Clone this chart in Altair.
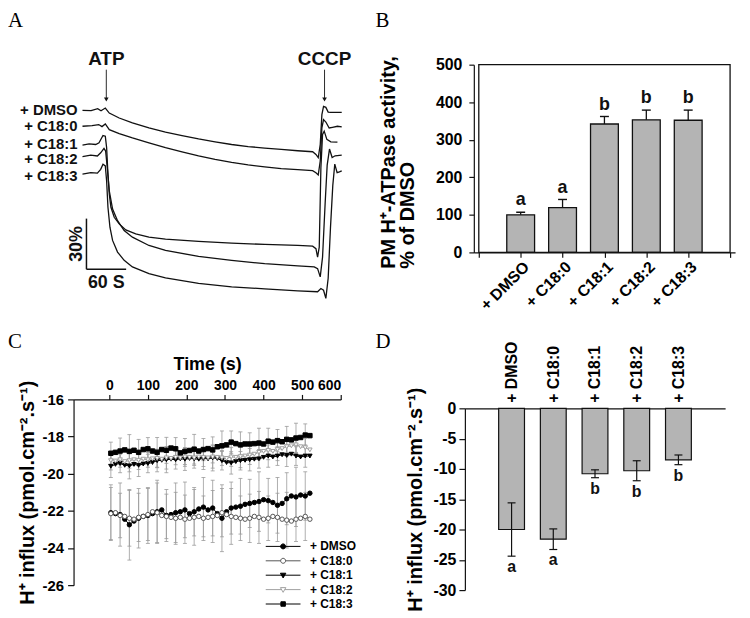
import json
import pandas as pd
import altair as alt

FONT = "Liberation Sans"
SERIF = "Liberation Serif"
INK = "#111111"
BAR_FILL = "#b4b4b4"
ERR_GRAY = "#9a9a9a"
W, H = 734, 602

# ---------------- panel letters ----------------
PANEL_LABELS = ["A", "B", "C", "D"]
PANEL_COL = [0, 1, 0, 1]
PANEL_ROW = [0, 0, 1, 1]

# ---------------- A: fluorescence traces ----------------
A_NAMES = ["+ DMSO", "+ C18:0", "+ C18:1", "+ C18:2", "+ C18:3"]
A_T_DMSO = [0, 13, 23, 28, 34.5, 40.5, 55.5, 75.5, 100.5, 125.5, 150.5, 175.5, 200.5, 225.5, 250.5, 275.5,
            300.5, 325.5, 348, 353, 356.5, 359.5, 362, 364.5, 368, 371.5, 375.5, 392]
A_V_DMSO = [-0.6, -0.8, 0.4, -0.8, 0.8, -2.2, -5.1, -8.0, -11.0, -13.5, -15.5, -17.5, -19.2, -20.8, -22.0, -22.9,
            -23.7, -24.5, -25.1, -26.7, -28.6, -20.8, -3.1, 1.8, 1.2, -1.6, -1.8, -1.8]
A_T_C180 = [0, 14.5, 24.5, 29.5, 34.5, 40.5, 55.5, 75.5, 100.5, 125.5, 150.5, 175.5, 200.5, 225.5, 250.5, 275.5,
            300.5, 325.5, 348, 353, 356.5, 359.5, 362, 364.5, 368, 373, 378, 385.5, 392]
A_V_C180 = [-10.0, -9.6, -9.0, -10.2, -8.6, -12.0, -14.3, -16.9, -19.8, -22.7, -25.1, -27.5, -29.6, -31.4, -32.9,
            -34.1, -35.1, -35.7, -36.3, -37.5, -38.8, -30.6, -11.0, -6.1, -7.5, -11.0, -10.6, -10.0, -10.4]
A_T_C181 = [0, 10, 20, 25, 31, 34.5, 36.5, 38.5, 40.5, 43, 48, 55.5, 65.5, 80.5, 100.5, 125.5, 175.5, 225.5,
            275.5, 325.5, 348, 353, 355.5, 358, 360.5, 363, 365.5, 369.5, 375.5, 385.5]
A_V_C181 = [-21.2, -20.4, -20.8, -19.8, -15.5, -15.9, -22.7, -38.4, -50.2, -58.0, -63.9, -67.8, -71.4, -73.7,
            -75.7, -76.9, -78.2, -79.2, -80.0, -80.6, -81.0, -82.5, -87.5, -81.6, -34.5, -14.9, -12.9, -17.8,
            -19.2, -19.4]
A_T_C182 = [0, 12.5, 22.5, 27.5, 32.5, 35, 37.5, 40.5, 45.5, 53, 63, 75.5, 100.5, 125.5, 175.5, 225.5, 275.5,
            325.5, 350.5, 355.5, 359.5, 363, 367, 370, 373.5, 377.5, 382, 392]
A_V_C182 = [-28.0, -27.1, -27.6, -25.7, -23.1, -24.7, -34.5, -48.2, -59.0, -65.9, -71.8, -75.7, -80.6, -83.5,
            -87.1, -89.4, -91.4, -92.7, -93.3, -94.3, -99.2, -87.5, -55.0, -33.0, -23.5, -28.5, -27.5, -27.1]
A_T_C183 = [0, 12.5, 22.5, 27.5, 31, 34.5, 36.5, 38.5, 41.5, 45.5, 53, 63, 75.5, 100.5, 125.5, 175.5, 225.5,
            275.5, 325.5, 355.5, 360.5, 364.5, 368, 371.5, 375, 378.5, 381.5, 385, 388.5, 392]
A_V_C183 = [-38.4, -37.5, -37.8, -35.5, -32.5, -33.5, -42.4, -58.0, -69.8, -77.6, -84.5, -89.4, -93.3, -97.3,
            -99.8, -103.1, -105.1, -106.3, -107.5, -108.0, -106.1, -107.1, -111.9, -100.0, -70.0, -45.0, -32.4,
            -37.5, -37.0, -36.4]
A_T = [A_T_DMSO, A_T_C180, A_T_C181, A_T_C182, A_T_C183]
A_V = [A_V_DMSO, A_V_C180, A_V_C181, A_V_C182, A_V_C183]
A_EVENTS = ["ATP", "CCCP"]
A_EVENT_T = [36, 366]
SCALE_SEC = 60
SCALE_PCT = 30

# ---------------- B: ATPase activity ----------------
TREATMENTS = ["+ DMSO", "+ C18:0", "+ C18:1", "+ C18:2", "+ C18:3"]
B_MEAN = [100, 119, 342, 353, 352]
B_ERR = [7, 22, 20, 26, 27]
B_LETTER = ["a", "a", "b", "b", "b"]

# ---------------- C: H+ influx time course ----------------
C_NAMES = ["+ DMSO", "+ C18:0", "+ C18:1", "+ C18:2", "+ C18:3"]
C_T = [4, 16, 28, 40, 52, 64, 76, 88, 100, 112, 124, 136, 148, 160, 172, 184, 196, 208, 220, 232, 244, 256,
       268, 280, 292, 304, 316, 328, 340, 352, 364, 376, 388, 400, 412, 424, 436, 448, 460, 472, 484, 496,
       508, 520]
C_DMSO = [-22.10, -22.15, -22.20, -22.45, -22.75, -22.55, -22.40, -22.30, -22.25, -22.15,
          -22.05, -21.95, -22.25, -22.20, -22.10, -22.05, -21.95, -22.15, -22.05, -21.90,
          -21.80, -21.95, -21.85, -22.15, -22.40, -22.05, -21.85, -21.80, -21.75, -21.65,
          -21.60, -21.55, -21.50, -21.40, -21.45, -21.55, -21.70, -21.60, -21.35, -21.20,
          -21.25, -21.15, -21.20, -21.05]
C_C180 = [-22.15, -22.10, -22.25, -22.30, -22.40, -22.45, -22.35, -22.30, -22.20, -22.05,
          -22.10, -22.25, -22.30, -22.35, -22.40, -22.35, -22.45, -22.40, -22.35, -22.30,
          -22.40, -22.35, -22.30, -22.25, -22.10, -22.20, -22.30, -22.35, -22.40, -22.45,
          -22.40, -22.30, -22.35, -22.45, -22.40, -22.30, -22.35, -22.45, -22.50, -22.55,
          -22.45, -22.40, -22.30, -22.45]
C_C181 = [-19.60, -19.50, -19.45, -19.55, -19.58, -19.50, -19.55, -19.48, -19.45, -19.40,
          -19.30, -19.28, -19.25, -19.22, -19.25, -19.20, -19.22, -19.18, -19.20, -19.22,
          -19.18, -19.20, -19.15, -19.18, -19.30, -19.40, -19.42, -19.35, -19.30, -19.28,
          -19.25, -19.22, -19.20, -19.12, -19.05, -19.10, -19.05, -18.98, -19.02, -18.95,
          -19.05, -19.10, -19.05, -19.05]
C_C182 = [-19.30, -19.32, -19.25, -19.35, -19.30, -19.25, -19.28, -19.22, -19.25, -19.20,
          -19.18, -19.22, -19.15, -19.18, -19.12, -19.15, -19.10, -19.12, -19.15, -19.10,
          -19.12, -19.15, -19.10, -19.12, -19.15, -19.18, -19.10, -19.12, -19.08, -19.05,
          -19.00, -18.95, -18.85, -18.80, -18.75, -18.80, -18.70, -18.65, -18.55, -18.50,
          -18.45, -18.55, -18.60, -18.72]
C_C183 = [-18.90, -18.85, -18.78, -18.72, -18.80, -18.74, -18.85, -18.70, -18.66, -18.78,
          -18.85, -18.70, -18.74, -18.62, -18.66, -18.88, -18.80, -18.75, -18.68, -18.78,
          -18.70, -18.65, -18.72, -18.55, -18.50, -18.45, -18.30, -18.38, -18.45, -18.40,
          -18.40, -18.38, -18.35, -18.40, -18.25, -18.30, -18.22, -18.28, -18.15, -18.18,
          -18.08, -18.05, -17.92, -17.95]
# SD shown on every second time point
C_SD_DMSO = [1.5, 1.7, 1.9, 1.6, 1.5, 1.7, 1.4, 1.6, 1.5, 1.3, 1.6, 1.5, 1.8, 1.4, 1.5, 1.3, 1.6, 1.2, 1.5, 1.4, 1.6, 1.3]
C_SD_C180 = [1.4, 1.2, 1.5, 1.3, 1.4, 1.6, 1.2, 1.4, 1.3, 1.5, 1.2, 1.4, 1.3, 1.5, 1.2, 1.3, 1.4, 1.2, 1.3, 1.5, 1.2, 1.3]
C_SD_C181 = [0.6, 0.5, 0.7, 0.6, 0.5, 0.6, 0.7, 0.5, 0.6, 0.5, 0.6, 0.7, 0.5, 0.6, 0.5, 0.6, 0.5, 0.6, 0.5, 0.6, 0.5, 0.6]
C_SD_C182 = [0.5, 0.4, 0.6, 0.5, 0.4, 0.5, 0.6, 0.4, 0.5, 0.4, 0.5, 0.6, 0.4, 0.5, 0.6, 0.5, 0.4, 0.5, 0.6, 0.5, 0.4, 0.5]
C_SD_C183 = [0.6, 0.7, 0.9, 0.7, 0.6, 0.8, 0.7, 0.6, 0.7, 0.8, 0.6, 0.7, 0.8, 0.6, 0.7, 0.6, 0.8, 0.7, 0.6, 0.7, 0.8, 0.6]
C_VALUES = [C_DMSO, C_C180, C_C181, C_C182, C_C183]
C_SDS = [C_SD_DMSO, C_SD_C180, C_SD_C181, C_SD_C182, C_SD_C183]
C_SHAPES = ["circle", "circle", "triangle-down", "triangle-down", "square"]
C_FILLS = ["#000000", "#ffffff", "#000000", "#ffffff", "#000000"]
C_STROKES = ["#000000", "#555555", "#000000", "#a0a0a0", "#000000"]
LEG_PATHS = [
    "M-3.5,0H3.5M0.5,0A0.5,0.5,0,1,1,-0.5,0A0.5,0.5,0,1,1,0.5,0Z",
    "M-3.5,0H-0.5M0.5,0H3.5M0.5,0A0.5,0.5,0,1,1,-0.5,0A0.5,0.5,0,1,1,0.5,0Z",
    "M-3.5,0H3.5M-0.55,-0.4L0.55,-0.4L0,0.55Z",
    "M-3.5,0H-0.35M0.35,0H3.5M-0.55,-0.4L0.55,-0.4L0,0.55Z",
    "M-3.5,0H3.5M-0.45,-0.45H0.45V0.45H-0.45Z",
]

# ---------------- D: mean H+ influx ----------------
D_MEAN = [-20.0, -21.6, -10.8, -10.3, -8.5]
D_ERR = [4.4, 1.7, 0.65, 1.65, 0.8]
D_LETTER = ["a", "a", "b", "b", "b"]

LABEL_EXPR = "%s[datum.value] || ''" % json.dumps([""] + TREATMENTS + [""])
FLUX_TITLE = "H⁺ influx (pmol.cm⁻².s⁻¹)"
A_LABEL_NUDGE = [0, 0, -1.5, 2, 1.5]   # small pixel nudges so the trace names do not collide


def sc(domain, rng):
    return alt.Scale(domain=domain, range=rng, nice=False, zero=False)


one = pd.DataFrame({"k": [0]})

# ---------- letters ----------
df_letters = pd.DataFrame({"lab": PANEL_LABELS, "col": PANEL_COL, "row": PANEL_ROW})
letters = alt.Chart(df_letters).mark_text(font=SERIF, fontSize=21, align="left", baseline="top",
                                          color="black").encode(
    x=alt.X("col:Q", scale=sc([0, 1], [0, 370]), axis=None),
    y=alt.Y("row:Q", scale=sc([0, 1], [0, 323]), axis=None),
    text="lab:N",
)

# ---------- A ----------
rowsA = []
for name, ts, vs in zip(A_NAMES, A_T, A_V):
    for t, v in zip(ts, vs):
        rowsA.append({"trace": name, "t": t, "v": v})
dfA = pd.DataFrame(rowsA)
dfEv = pd.DataFrame({"event": A_EVENTS, "t": A_EVENT_T})
xA_s = sc([0, 392], [75, 336])
yA_s = sc([-120, 0], [304, 100])
xA = alt.X("t:Q", scale=xA_s, axis=None)
yA = alt.Y("v:Q", scale=yA_s, axis=None)
SB_T0, SB_V0 = 6, -94.7

a_lines = alt.Chart(dfA).mark_line(color=INK, strokeWidth=1.3).encode(x=xA, y=yA, detail="trace:N")
a_label_layers = []
for name, ts, vs, nud in zip(A_NAMES, A_T, A_V, A_LABEL_NUDGE):
    a_label_layers.append(
        alt.Chart(pd.DataFrame({"trace": [name], "t": [ts[0]], "v": [vs[0]]})).mark_text(
            align="right", baseline="middle", dx=-5, dy=nud, fontSize=15, fontWeight="bold", color=INK
        ).encode(x=xA, y=yA, text="trace:N"))
a_ev_text = alt.Chart(dfEv).mark_text(baseline="middle", fontSize=19, fontWeight="bold", color=INK).encode(
    x=xA, y=alt.Y(datum=30, scale=yA_s, axis=None), text="event:N")
a_ev_rule = alt.Chart(dfEv).mark_rule(color=INK, strokeWidth=0.9).encode(
    x=xA, y=alt.Y(datum=23.5, scale=yA_s, axis=None), y2=alt.datum(6.5))
a_ev_head = alt.Chart(dfEv).mark_point(shape="triangle-down", filled=True, size=22, color=INK,
                                       opacity=1).encode(x=xA, y=alt.Y(datum=5.8, scale=yA_s, axis=None))
sb_h = alt.Chart(one).mark_rule(color=INK, strokeWidth=1.5).encode(
    x=alt.X(datum=SB_T0, scale=xA_s, axis=None), x2=alt.datum(SB_T0 + SCALE_SEC),
    y=alt.Y(datum=SB_V0, scale=yA_s, axis=None))
sb_v = alt.Chart(one).mark_rule(color=INK, strokeWidth=1.5).encode(
    x=alt.X(datum=SB_T0, scale=xA_s, axis=None),
    y=alt.Y(datum=SB_V0, scale=yA_s, axis=None), y2=alt.datum(SB_V0 + SCALE_PCT))
sb_t1 = alt.Chart(one).mark_text(fontSize=18, fontWeight="bold", baseline="middle", color=INK,
                                 text=f"{SCALE_SEC} S").encode(
    x=alt.X(datum=SB_T0 + SCALE_SEC / 2, scale=xA_s, axis=None),
    y=alt.Y(datum=SB_V0 - 8.2, scale=yA_s, axis=None))
sb_t2 = alt.Chart(one).mark_text(fontSize=18, fontWeight="bold", baseline="middle", angle=270, color=INK,
                                 text=f"{SCALE_PCT}%").encode(
    x=alt.X(datum=SB_T0 - 15, scale=xA_s, axis=None),
    y=alt.Y(datum=SB_V0 + SCALE_PCT / 2, scale=yA_s, axis=None))
panelA = alt.layer(a_lines, *a_label_layers, a_ev_rule, a_ev_head, a_ev_text, sb_h, sb_v, sb_t1, sb_t2)

# ---------- B ----------
dfB = pd.DataFrame({"treat": TREATMENTS, "pos": list(range(1, 6)), "m": B_MEAN, "e": B_ERR,
                    "letter": B_LETTER})
dfB["hi"] = dfB["m"] + dfB["e"]
xB_s = sc([0, 6], [469, 732])
yB_s = sc([0, 500], [244, 55])
xB_axis = alt.Axis(orient="bottom", offset=-(H - 244), values=list(range(7)), labelExpr=LABEL_EXPR,
                   labelAngle=315, labelAlign="right", labelBaseline="top", tickSize=5, labelPadding=1,
                   labelFontSize=16, labelOverlap=False, labelBound=False, title=None)
yB_axis = alt.Axis(orient="left", offset=-469, values=[0, 100, 200, 300, 400, 500], tickSize=5,
                   labelPadding=7, labelFontSize=16, title=["PM H⁺-ATPase activity,", "% of DMSO"],
                   titleFontSize=20, titleLineHeight=19, titleAngle=270, titleAlign="left",
                   titleBaseline="top", titleX=-96, titleY=260)
xB = alt.X("pos:Q", scale=xB_s, axis=xB_axis)


def yB(f):
    return alt.Y(f, scale=yB_s, axis=yB_axis)


b_bars = alt.Chart(dfB).mark_bar(size=28, fill=BAR_FILL, stroke=INK, strokeWidth=1.3).encode(
    x=xB, y=yB("m:Q"), y2=alt.datum(0))
b_err = alt.Chart(dfB).mark_rule(color=INK, strokeWidth=1.3).encode(x=xB, y=yB("m:Q"), y2="hi:Q")
b_cap = alt.Chart(dfB).mark_tick(orient="horizontal", size=9, thickness=1.4, color=INK, opacity=1).encode(
    x=xB, y=yB("hi:Q"))
b_let = alt.Chart(dfB).mark_text(baseline="bottom", dy=-3, fontSize=18, fontWeight="bold", color=INK).encode(
    x=xB, y=yB("hi:Q"), text="letter:N")
b_frame = alt.Chart(one).mark_rect(filled=False, stroke=INK, strokeWidth=1.3).encode(
    x=alt.X(datum=0, scale=xB_s, axis=xB_axis), x2=alt.datum(6),
    y=alt.Y(datum=0, scale=yB_s, axis=yB_axis), y2=alt.datum(500))
panelB = alt.layer(b_bars, b_err, b_cap, b_let, b_frame)

# ---------- C ----------
rowsC, rowsE = [], []
for name, vals, sds in zip(C_NAMES, C_VALUES, C_SDS):
    for i, (t, v) in enumerate(zip(C_T, vals)):
        rowsC.append({"series": name, "t": t, "v": v})
        if i % 2 == 0:
            sd = sds[i // 2]
            rowsE.append({"series": name, "t": t, "lo": v - sd, "hi": v + sd})
dfC = pd.DataFrame(rowsC)
dfE = pd.DataFrame(rowsE)
xC_axis = alt.Axis(orient="top", offset=-392, values=[0, 100, 200, 300, 400, 500, 600], tickSize=5,
                   labelPadding=2, labelFontSize=14, labelOverlap=False, title="Time (s)", titleFontSize=18,
                   titlePadding=5)
yC_axis = alt.Axis(orient="left", offset=-66, values=[-26, -24, -22, -20, -18, -16], tickSize=6,
                   labelPadding=4, labelFontSize=15, labelExpr="'' + datum.value", title=FLUX_TITLE,
                   titleFontSize=20, titlePadding=5)
xC_s = sc([-92.7, 600], [66, 335])
yC_s = sc([-26, -16], [579, 392])
xC = alt.X("t:Q", scale=xC_s, axis=xC_axis)


def yC(f):
    return alt.Y(f, scale=yC_s, axis=yC_axis)


shapeC = alt.Shape("series:N", scale=alt.Scale(domain=C_NAMES, range=C_SHAPES), legend=None)
fillC = alt.Fill("series:N", scale=alt.Scale(domain=C_NAMES, range=C_FILLS), legend=None)
strokeC = alt.Stroke("series:N", scale=alt.Scale(domain=C_NAMES, range=C_STROKES), legend=None)

c_err = alt.Chart(dfE).mark_rule(color=ERR_GRAY, strokeWidth=0.8).encode(x=xC, y=yC("lo:Q"), y2="hi:Q")
c_cap_lo = alt.Chart(dfE).mark_tick(orient="horizontal", size=4, thickness=0.8, color=ERR_GRAY,
                                    opacity=1).encode(x=xC, y=yC("lo:Q"))
c_cap_hi = alt.Chart(dfE).mark_tick(orient="horizontal", size=4, thickness=0.8, color=ERR_GRAY,
                                    opacity=1).encode(x=xC, y=yC("hi:Q"))
c_lines = alt.Chart(dfC).mark_line(strokeWidth=1).encode(x=xC, y=yC("v:Q"), stroke=strokeC,
                                                         detail="series:N")
c_pts = alt.Chart(dfC).mark_point(size=20, strokeWidth=1, opacity=1).encode(
    x=xC, y=yC("v:Q"), shape=shapeC, fill=fillC, stroke=strokeC)
panelC = alt.layer(c_err, c_cap_lo, c_cap_hi, c_lines, c_pts)

LEG = alt.Legend(orient="none", legendX=271, legendY=534, title=None, symbolSize=100, labelOffset=21,
                 rowPadding=2.5, labelFontSize=12, labelFontWeight="bold", symbolStrokeWidth=1)
legend = alt.Chart(pd.DataFrame({"series": C_NAMES})).transform_filter("false").mark_point(
    opacity=1).encode(
    shape=alt.Shape("series:N", scale=alt.Scale(domain=C_NAMES, range=LEG_PATHS), legend=LEG),
    fill=alt.Fill("series:N", scale=alt.Scale(domain=C_NAMES, range=C_FILLS), legend=LEG),
    stroke=alt.Stroke("series:N", scale=alt.Scale(domain=C_NAMES, range=C_STROKES), legend=LEG),
)

# ---------- D ----------
dfD = pd.DataFrame({"treat": TREATMENTS, "pos": list(range(1, 6)), "m": D_MEAN, "e": D_ERR,
                    "letter": D_LETTER})
dfD["lo"] = dfD["m"] - dfD["e"]
dfD["hi"] = dfD["m"] + dfD["e"]
xD_axis = alt.Axis(orient="top", offset=-401, values=[1, 2, 3, 4, 5], labelExpr=LABEL_EXPR, labelAngle=270,
                   labelAlign="left", labelBaseline="middle", ticks=False, labelPadding=6, labelFontSize=16,
                   labelOverlap=False, title=None)
yD_axis = alt.Axis(orient="left", offset=-460, values=[-30, -25, -20, -15, -10, -5, 0], tickSize=6,
                   labelPadding=3, labelFontSize=16, labelExpr="'' + datum.value", title=FLUX_TITLE,
                   titleFontSize=20, titlePadding=8)
xD = alt.X("pos:Q", scale=sc([0, 6], [460, 722]), axis=xD_axis)
yD_s = sc([-30, 0], [584, 401])


def yD(f):
    return alt.Y(f, scale=yD_s, axis=yD_axis)


d_bars = alt.Chart(dfD).mark_bar(size=26, fill=BAR_FILL, stroke=INK, strokeWidth=1.2).encode(
    x=xD, y=yD("m:Q"), y2=alt.datum(0))
d_err = alt.Chart(dfD).mark_rule(color=INK, strokeWidth=1.2).encode(x=xD, y=yD("lo:Q"), y2="hi:Q")
d_cap_lo = alt.Chart(dfD).mark_tick(orient="horizontal", size=8, thickness=1.2, color=INK, opacity=1).encode(
    x=xD, y=yD("lo:Q"))
d_cap_hi = alt.Chart(dfD).mark_tick(orient="horizontal", size=8, thickness=1.2, color=INK, opacity=1).encode(
    x=xD, y=yD("hi:Q"))
d_let = alt.Chart(dfD).mark_text(baseline="top", dy=3, fontSize=16, fontWeight="bold", color=INK).encode(
    x=xD, y=yD("lo:Q"), text="letter:N")
panelD = alt.layer(d_bars, d_err, d_cap_lo, d_cap_hi, d_let)

chart = alt.layer(letters, panelA, panelB, panelC, panelD, legend).resolve_scale(
    x="independent", y="independent", shape="independent", fill="independent", stroke="independent"
).properties(width=W, height=H, padding=0).configure(font=FONT).configure_view(strokeWidth=0).configure_axis(
    grid=False, labelFont=FONT, titleFont=FONT, labelFontWeight="bold", titleFontWeight="bold",
    labelColor="black", titleColor="black", domainColor=INK, tickColor=INK, domainWidth=1.2, tickWidth=1.2
).configure_legend(labelFont=FONT, labelColor="black")

chart.save("out.html", embed_options={"renderer": "svg", "actions": False})
